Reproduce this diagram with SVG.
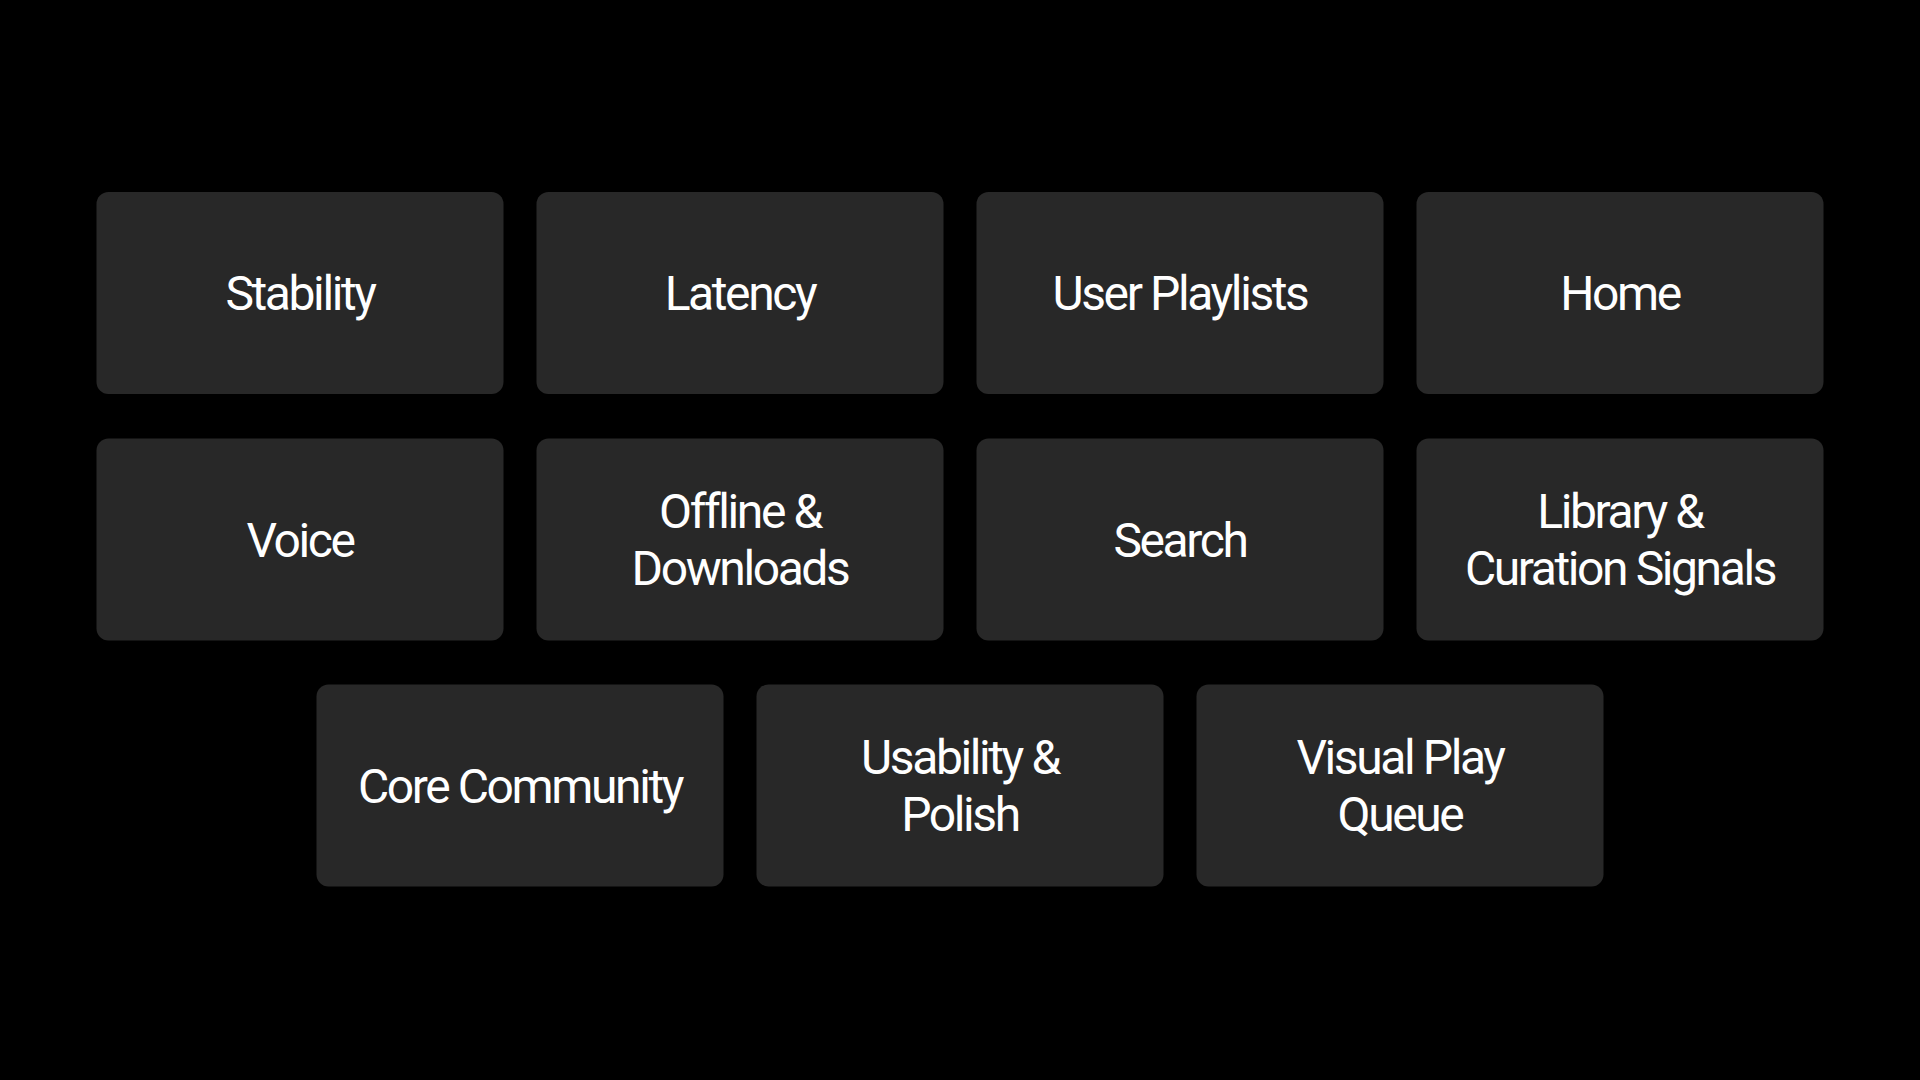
<svg xmlns="http://www.w3.org/2000/svg" width="1920" height="1080" viewBox="0 0 1920 1080">
<style>
.box{fill:#282828}
.t{font-family:Roboto,"Liberation Sans",sans-serif;font-size:48px;fill:#ffffff;text-anchor:middle;letter-spacing:-2.4px}
</style>
<rect width="1920" height="1080" fill="#000"/>
<g id="stability"><rect class="box" x="96.5" y="192" width="407" height="202" rx="12"/><text class="t" x="300" y="310">Stability</text></g>
<g id="latency"><rect class="box" x="536.5" y="192" width="407" height="202" rx="12"/><text class="t" x="740" y="310">Latency</text></g>
<g id="user-playlists"><rect class="box" x="976.5" y="192" width="407" height="202" rx="12"/><text class="t" x="1180" y="310">User Playlists</text></g>
<g id="home"><rect class="box" x="1416.5" y="192" width="407" height="202" rx="12"/><text class="t" x="1620" y="310">Home</text></g>
<g id="voice"><rect class="box" x="96.5" y="438.5" width="407" height="202" rx="12"/><text class="t" x="300" y="556.5">Voice</text></g>
<g id="offline"><rect class="box" x="536.5" y="438.5" width="407" height="202" rx="12"/><text class="t" x="740" y="527.7">Offline &amp;</text><text class="t" x="740" y="585.3">Downloads</text></g>
<g id="search"><rect class="box" x="976.5" y="438.5" width="407" height="202" rx="12"/><text class="t" x="1180" y="556.5">Search</text></g>
<g id="library"><rect class="box" x="1416.5" y="438.5" width="407" height="202" rx="12"/><text class="t" x="1620" y="527.7">Library &amp;</text><text class="t" x="1620" y="585.3">Curation Signals</text></g>
<g id="core-community"><rect class="box" x="316.5" y="684.5" width="407" height="202" rx="12"/><text class="t" x="520" y="802.5">Core Community</text></g>
<g id="usability"><rect class="box" x="756.5" y="684.5" width="407" height="202" rx="12"/><text class="t" x="960" y="773.7">Usability &amp;</text><text class="t" x="960" y="831.3">Polish</text></g>
<g id="visual-play-queue"><rect class="box" x="1196.5" y="684.5" width="407" height="202" rx="12"/><text class="t" x="1400" y="773.7">Visual Play</text><text class="t" x="1400" y="831.3">Queue</text></g>
<g id="connectors"></g>
</svg>
